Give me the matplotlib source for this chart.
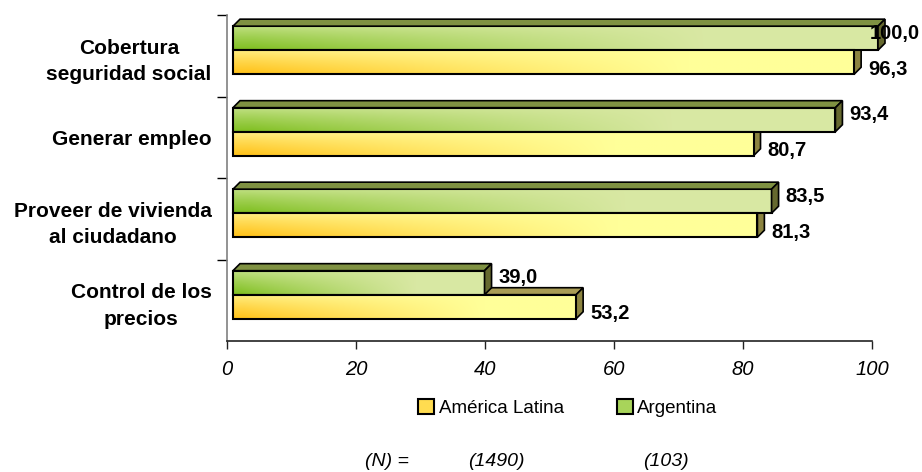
import numpy as np
import matplotlib
matplotlib.use("Agg")
import matplotlib.pyplot as plt
from matplotlib.patches import Rectangle, Polygon, Patch
from matplotlib import font_manager as fm

# ---------------- data ----------------
categories = ["Cobertura\nseguridad social", "Generar empleo",
              "Proveer de vivienda\nal ciudadano", "Control de los\nprecios"]
argentina = [100.0, 93.4, 83.5, 39.0]
america_latina = [96.3, 80.7, 81.3, 53.2]
series_names = ["América Latina", "Argentina"]
n_labels = ["(N) =", "(1490)", "(103)"]
xticks = [0, 20, 40, 60, 80, 100]

names = {f.name for f in fm.fontManager.ttflist}
narrow = "Liberation Sans Narrow" if "Liberation Sans Narrow" in names else "Liberation Sans"
plt.rcParams["font.family"] = ["Liberation Sans", "DejaVu Sans"]

W, H = 922, 472
fig = plt.figure(figsize=(W / 100, H / 100), dpi=100)
ax_l, ax_r, ax_t, ax_b = 227, 872, 15, 341
ax = fig.add_axes([ax_l / W, 1 - ax_b / H, (ax_r - ax_l) / W, (ax_b - ax_t) / H])
ax.set_xlim(0, 100)
ax.set_ylim(3.5, -0.5)

px_x = (ax_r - ax_l) / 100.0
px_y = (ax_b - ax_t) / 4.0
shift = 6 / px_x          # front-face shift (3D floor)
dx = 7 / px_x             # depth
dy = 7 / px_y

bar_h = 0.295
pair_off = -0.068

green_tl = np.array([0.78, 0.89, 0.55])
green_bl = np.array([0.50, 0.75, 0.13])
green_r = np.array([0.85, 0.91, 0.64])
yel_tl = np.array([1.00, 0.95, 0.55])
yel_bl = np.array([1.00, 0.76, 0.10])
yel_r = np.array([1.00, 1.00, 0.60])


def grad_img(tl, bl, r, nx=200, ny=40):
    t = np.linspace(0, 1, nx)[None, :, None]
    s = np.linspace(0, 1, ny)[:, None, None] ** 0.8
    left = tl * (1 - s) + bl * s
    w = np.clip((t - 0.03) / 0.7, 0, 1) ** 0.9
    return left * (1 - w) + r * w


def draw_top_side(x0, x1, y0, y1, top_c, side_c, z):
    top = Polygon([(x0, y0), (x1, y0), (x1 + dx, y0 - dy), (x0 + dx, y0 - dy)],
                  closed=True, fc=top_c, ec="black", lw=1.2, zorder=z, clip_on=False)
    side = Polygon([(x1, y0), (x1 + dx, y0 - dy), (x1 + dx, y1 - dy), (x1, y1)],
                   closed=True, fc=side_c, ec="black", lw=1.2, zorder=z, clip_on=False)
    ax.add_patch(top)
    ax.add_patch(side)


def draw_front(x0, x1, y0, y1, img, z):
    im = ax.imshow(img, extent=(x0, x1, y1, y0), aspect="auto", zorder=z,
                   interpolation="bilinear")
    im.set_clip_on(False)
    ax.add_patch(Rectangle((x0, y0), x1 - x0, y1 - y0, fc="none", ec="black",
                           lw=1.5, zorder=z + 0.1, clip_on=False))


for i, (ag, al) in enumerate(zip(argentina, america_latina)):
    c = i + pair_off
    gy0, gy1 = c - bar_h, c
    yy0, yy1 = c, c + bar_h
    x0 = 0 + shift
    draw_top_side(x0, al + shift, yy0, yy1, "#a99c55", "#8c8440", 2)
    draw_front(x0, ag + shift, gy0, gy1, grad_img(green_tl, green_bl, green_r), 3)
    draw_top_side(x0, ag + shift, gy0, gy1, "#7f9142", "#66692f", 4)
    draw_front(x0, al + shift, yy0, yy1, grad_img(yel_tl, yel_bl, yel_r), 5)

    for v, yc, oy in ((ag, (gy0 + gy1) / 2, 5), (al, (yy0 + yy1) / 2, -7)):
        xpos = min(v, 96.6) + shift
        ax.annotate(f"{v:.1f}".replace(".", ","), xy=(xpos, yc),
                    xytext=(14 * 0.72, oy * 0.72), textcoords="offset points",
                    ha="left", va="center", fontsize=14.5, fontweight="bold",
                    annotation_clip=False, zorder=10)

ax.set_xlim(0, 100)
ax.set_ylim(3.5, -0.5)
ax.set_xticks(xticks)
ax.set_xticklabels([str(v) for v in xticks], fontsize=14.5, fontstyle="italic",
                   family=[narrow, "DejaVu Sans"])
ax.tick_params(axis="x", direction="out", length=6, width=1, pad=8, color="#222222")
ax.set_yticks(range(len(categories)))
ax.set_yticklabels(categories, fontsize=15, fontweight="bold")
for t in ax.get_yticklabels():
    t.set_multialignment("center")
    t.set_linespacing(1.5)
ax.tick_params(axis="y", length=0, pad=11)
ax.set_yticks([-0.5, 0.5, 1.5, 2.5], minor=True)
ax.tick_params(axis="y", which="minor", length=7, width=1, color="black")

for s in ("top", "right"):
    ax.spines[s].set_visible(False)
ax.spines["left"].set_color("#808080")
ax.spines["left"].set_linewidth(1.2)
ax.spines["bottom"].set_color("#222222")
ax.spines["bottom"].set_linewidth(1.2)
ax.patch.set_alpha(0)

handles = [Patch(fc="#ffdc50", ec="black", lw=1.5),
           Patch(fc="#a8d45a", ec="black", lw=1.5)]
fig.legend(handles, series_names, loc="center", ncol=2,
           bbox_to_anchor=(568 / W, 1 - 408 / H), frameon=False,
           prop={"family": [narrow, "DejaVu Sans"], "size": 13.5},
           handlelength=0.85, handleheight=0.85, handletextpad=0.25,
           columnspacing=2.8, borderpad=0)

n_x = [387, 496, 666]
for txt, xc in zip(n_labels, n_x):
    fig.text(xc / W, 1 - 461 / H, txt, ha="center", va="center", fontsize=14,
             fontstyle="italic", family=[narrow, "DejaVu Sans"])

fig.savefig("out.png", dpi=100)
